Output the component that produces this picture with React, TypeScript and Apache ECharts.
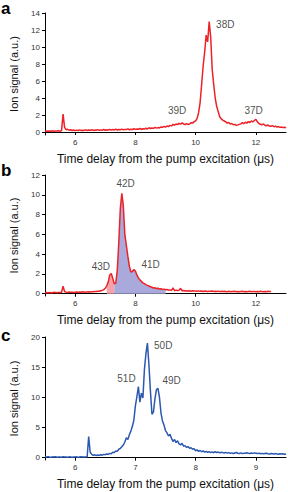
import React, { useEffect, useRef } from "react";
import * as echarts from "echarts";

// ---------- data ----------
// Panel a: sampled every 0.05 µs from 5.00 to 13.00 µs
const startA = 5.0;
const stepA = 0.05;
const signalA = [
  0.10, 0.13, 0.08, 0.12, 0.10, 0.15, 0.09, 0.13, 0.11, 0.14,
  0.10, 0.16, 2.10, 0.55, 0.28, 0.32, 0.22, 0.27, 0.18, 0.24,
  0.16, 0.22, 0.18, 0.25, 0.17, 0.21, 0.19, 0.26, 0.18, 0.23,
  0.20, 0.27, 0.19, 0.24, 0.21, 0.28, 0.20, 0.25, 0.22, 0.30,
  0.21, 0.27, 0.24, 0.31, 0.22, 0.29, 0.25, 0.32, 0.24, 0.30,
  0.27, 0.34, 0.26, 0.31, 0.29, 0.37, 0.27, 0.33, 0.30, 0.38,
  0.31, 0.36, 0.33, 0.42, 0.30, 0.39, 0.35, 0.44, 0.36, 0.50,
  0.41, 0.47, 0.43, 0.55, 0.46, 0.52, 0.48, 0.60, 0.55, 0.66,
  0.58, 0.70, 0.64, 0.78, 0.72, 0.90, 0.80, 0.95, 0.88, 1.02,
  0.92, 1.08, 0.95, 0.88, 1.00, 0.86, 0.97, 1.10, 1.05, 1.22,
  1.30, 1.60, 2.30, 3.50, 5.60, 7.80, 9.40, 11.40, 10.60, 13.00,
  11.20, 7.40, 5.60, 4.00, 3.00, 2.40, 1.80, 1.55, 1.40, 1.30,
  1.20, 1.05, 1.12, 0.95, 1.00, 0.85, 0.90, 0.78, 0.84, 0.90,
  0.96, 1.10, 0.98, 1.15, 1.05, 1.22, 1.12, 1.30, 1.18, 1.35,
  1.50, 1.20, 1.00, 0.92, 0.85, 0.95, 0.80, 0.74, 0.82, 0.70,
  0.68, 0.75, 0.62, 0.70, 0.58, 0.64, 0.55, 0.60, 0.52, 0.57,
  0.50,
];

// Panel b: sampled every 0.05 µs from 5.00 to 12.50 µs
const startB = 5.0;
const stepB = 0.05;
const signalB = [
  0.10, 0.12, 0.09, 0.13, 0.11, 0.10, 0.14, 0.12, 0.10, 0.13,
  0.12, 0.15, 0.75, 0.22, 0.16, 0.13, 0.17, 0.14, 0.16, 0.13,
  0.15, 0.17, 0.14, 0.18, 0.16, 0.19, 0.15, 0.18, 0.17, 0.20,
  0.18, 0.21, 0.19, 0.23, 0.22, 0.26, 0.25, 0.30, 0.33, 0.42,
  0.55, 0.80, 1.20, 1.90, 2.05, 1.55, 1.00, 1.08, 2.40, 5.20,
  8.60, 10.15, 8.90, 6.00, 4.90, 3.80, 2.80, 2.20, 2.25, 2.45,
  2.30, 1.90, 1.60, 1.40, 1.25, 1.10, 1.02, 0.92, 0.85, 0.78,
  0.70, 0.66, 0.58, 0.60, 0.52, 0.55, 0.48, 0.50, 0.44, 0.46,
  0.40, 0.42, 0.36, 0.39, 0.34, 0.60, 0.30, 0.36, 0.32, 0.34,
  0.55, 0.30, 0.33, 0.28, 0.31, 0.27, 0.30, 0.26, 0.29, 0.27,
  0.28, 0.25, 0.29, 0.24, 0.27, 0.23, 0.28, 0.25, 0.22, 0.26,
  0.24, 0.27, 0.22, 0.25, 0.23, 0.26, 0.21, 0.24, 0.22, 0.25,
  0.23, 0.21, 0.24, 0.20, 0.23, 0.22, 0.25, 0.21, 0.23, 0.20,
  0.22, 0.24, 0.21, 0.23, 0.20, 0.22, 0.24, 0.21, 0.23, 0.22,
  0.20, 0.23, 0.21, 0.24, 0.22, 0.20, 0.23, 0.21, 0.24, 0.22,
  0.23,
];
// shaded windows of panel b (µs)
const pinkWindow = [7.05, 7.3];
const blueWindow = [7.3, 9.0];

// Panel c: sampled every 0.025 µs from 5.50 to 9.50 µs
const startC = 5.5;
const stepC = 0.025;
const signalC = [
  0.15, 0.10, 0.18, 0.12, 0.08, 0.14, 0.11, 0.16, 0.09, 0.13,
  0.12, 0.07, 0.15, 0.10, 0.13, 0.09, 0.14, 0.11, 0.08, 0.12,
  0.10, 0.14, 0.09, 0.12, 0.15, 0.10, 0.13, 0.11, 0.16, 3.50,
  0.90, 0.55, 0.40, 0.48, 0.36, 0.44, 0.38, 0.50, 0.42, 0.55,
  0.50, 0.62, 0.56, 0.72, 0.66, 0.90, 0.85, 1.10, 1.05, 1.40,
  1.55, 1.80, 2.10, 2.60, 3.30, 3.00, 3.80, 4.40, 5.20, 6.20,
  8.60, 10.10, 11.80, 9.20, 10.70, 9.90, 14.60, 17.20, 19.00, 15.40,
  11.00, 7.20, 7.60, 9.80, 11.30, 11.50, 10.00, 7.40, 6.10, 5.40,
  4.50, 4.10, 3.60, 3.90, 3.20, 2.70, 3.00, 2.50, 2.80, 2.30,
  2.10, 2.40, 1.90, 2.00, 1.70, 1.85, 1.55, 1.65, 1.40, 1.50,
  1.15, 1.30, 1.05, 1.20, 0.98, 1.12, 0.92, 1.05, 0.88, 1.00,
  0.85, 0.96, 0.82, 1.02, 0.86, 0.94, 0.80, 0.90, 0.84, 0.78,
  0.88, 0.76, 0.84, 0.72, 0.80, 0.70, 0.78, 0.86, 0.74, 0.70,
  0.80, 0.68, 0.76, 0.72, 0.82, 0.75, 0.70, 0.78, 0.72, 0.80,
  0.74, 0.68, 0.76, 0.66, 0.72, 0.64, 0.70, 0.75, 0.66, 0.62,
  0.70, 0.65, 0.60, 0.68, 0.63, 0.58, 0.66, 0.61, 0.64, 0.57,
  0.62,
];

// axis ticks
const xTicksA = [6, 8, 10, 12];
const xTicksB = [6, 8, 10, 12];
const xTicksC = [6, 7, 8, 9];
const yTicksA = [0, 2, 4, 6, 8, 10, 12, 14];
const yTicksB = [0, 2, 4, 6, 8, 10, 12];
const yTicksC = [0, 5, 10, 15, 20];

// peak labels
const labelsA = [
  { text: "38D", x: 10.68, y: 12.6 },
  { text: "39D", x: 9.08, y: 2.5 },
  { text: "37D", x: 11.62, y: 2.5 },
];
const labelsB = [
  { text: "42D", x: 7.37, y: 11.1 },
  { text: "43D", x: 6.55, y: 2.8 },
  { text: "41D", x: 8.2, y: 3.0 },
];
const labelsC = [
  { text: "50D", x: 7.31, y: 18.6 },
  { text: "51D", x: 6.7, y: 13.1 },
  { text: "49D", x: 7.45, y: 12.8 },
];

const XNAME = "Time delay from the pump excitation (\u03bcs)";
const YNAME = "Ion signal (a.u.)";
const RED = "#ec2227";
const BLUE = "#2b58b0";
const FONT = "'Liberation Sans', Arial, sans-serif";

function toPairs(start: number, step: number, vals: number[]) {
  return vals.map((v, i) => [Number((start + i * step).toFixed(4)), v]);
}

export default function App() {
  const ref = useRef<HTMLDivElement>(null);

  useEffect(() => {
    if (!ref.current) return;
    const chart = echarts.init(ref.current, undefined, { renderer: "svg" });

    const dataA = toPairs(startA, stepA, signalA);
    const dataB = toPairs(startB, stepB, signalB);
    const dataC = toPairs(startC, stepC, signalC);
    const eps = 1e-6;
    const pinkData = dataB.filter(
      (p) => p[0] >= pinkWindow[0] - eps && p[0] <= pinkWindow[1] + eps
    );
    const blueData = dataB.filter(
      (p) => p[0] >= blueWindow[0] - eps && p[0] <= blueWindow[1] + eps
    );

    const grids = [
      { left: 41, top: 13, width: 245, height: 122 },
      { left: 41, top: 175, width: 245, height: 121 },
      { left: 41, top: 337, width: 245, height: 123 },
    ];

    const axisLine = { show: true, lineStyle: { color: "#000", width: 1 } };

    const mkX = (i: number, min: number, max: number, ticks: number[]) => ({
      type: "value",
      gridIndex: i,
      min,
      max,
      axisLine,
      axisTick: {
        show: true,
        length: 3,
        customValues: ticks,
        lineStyle: { color: "#000", width: 1 },
      },
      axisLabel: {
        customValues: ticks,
        fontSize: 8,
        color: "#333",
        margin: 3,
        fontFamily: FONT,
      },
      splitLine: { show: false },
      name: XNAME,
      nameLocation: "middle",
      nameGap: 18,
      nameTextStyle: { fontSize: 12, color: "#111", fontFamily: FONT },
    });

    const mkY = (i: number, min: number, max: number, ticks: number[]) => ({
      type: "value",
      gridIndex: i,
      min,
      max,
      axisLine,
      axisTick: {
        show: true,
        length: 3,
        customValues: ticks,
        lineStyle: { color: "#000", width: 1 },
      },
      axisLabel: {
        customValues: ticks,
        fontSize: 8,
        color: "#333",
        margin: 5,
        fontFamily: FONT,
      },
      splitLine: { show: false },
      name: YNAME,
      nameLocation: "middle",
      nameGap: 26,
      nameTextStyle: { fontSize: 11, color: "#111", fontFamily: FONT },
    });

    const lineSeries = (i: number, data: number[][], color: string) => ({
      type: "line",
      xAxisIndex: i,
      yAxisIndex: i,
      data,
      showSymbol: false,
      symbol: "none",
      lineStyle: { color, width: 1.5 },
      z: 5,
      silent: true,
    });

    const labelSeries = (
      i: number,
      labels: { text: string; x: number; y: number }[]
    ) => ({
      type: "scatter",
      xAxisIndex: i,
      yAxisIndex: i,
      symbolSize: 0,
      silent: true,
      z: 10,
      data: labels.map((l) => ({ value: [l.x, l.y], name: l.text })),
      label: {
        show: true,
        position: "right",
        distance: 0,
        formatter: (p: any) => p.name,
        fontSize: 10,
        color: "#1a1a1a",
        fontFamily: FONT,
      },
    });

    const letter = (t: string, top: number) => ({
      type: "text",
      left: 1,
      top,
      style: {
        text: t,
        font: `bold 17px ${FONT}`,
        fill: "#000",
      },
    });

    chart.setOption({
      animation: false,
      textStyle: { fontFamily: FONT },
      grid: grids,
      xAxis: [
        mkX(0, 5, 13, xTicksA),
        mkX(1, 5, 13, xTicksB),
        mkX(2, 5.5, 9.5, xTicksC),
      ],
      yAxis: [
        mkY(0, -0.35, 14, yTicksA),
        mkY(1, -0.23, 12, yTicksB),
        mkY(2, -0.38, 20, yTicksC),
      ],
      series: [
        {
          type: "line",
          xAxisIndex: 1,
          yAxisIndex: 1,
          data: pinkData,
          symbol: "none",
          lineStyle: { width: 0 },
          areaStyle: { color: "#f3a3a9", opacity: 1 },
          z: 2,
          silent: true,
        },
        {
          type: "line",
          xAxisIndex: 1,
          yAxisIndex: 1,
          data: blueData,
          symbol: "none",
          lineStyle: { width: 0 },
          areaStyle: { color: "#a9aadb", opacity: 1 },
          z: 2,
          silent: true,
        },
        lineSeries(0, dataA, RED),
        lineSeries(1, dataB, RED),
        lineSeries(2, dataC, BLUE),
        labelSeries(0, labelsA),
        labelSeries(1, labelsB),
        labelSeries(2, labelsC),
      ],
      graphic: [letter("a", 0), letter("b", 162), letter("c", 327)],
    });

    return () => chart.dispose();
  }, []);

  return (
    <div
      ref={ref}
      style={{ position: "absolute", left: 0, top: 0, width: 288, height: 492 }}
    />
  );
}
